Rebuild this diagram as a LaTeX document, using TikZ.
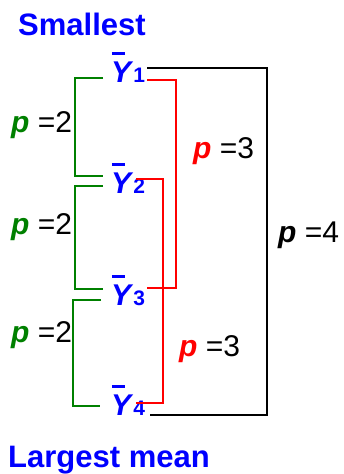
\documentclass[tikz,border=0pt]{standalone}
\usepackage{fontspec}
\setmainfont{Liberation Sans}
\usepackage{xcolor}
\usepackage{tikz}
\usetikzlibrary{positioning, calc}

\definecolor{meanblue}{RGB}{0,0,255}
\definecolor{pgreen}{RGB}{0,128,0}
\definecolor{pred}{RGB}{255,0,0}

\newcommand{\ymean}[1]{\textbf{\textit{\rlap{\kern0.02em\rule[0.9em]{0.45em}{0.1em}}Y}}{\fontsize{21}{21}\selectfont\bfseries #1}}
\newcommand{\plabel}[2]{{\color{#1}\textbf{\textit{p}}} =#2}

\begin{document}
\begin{tikzpicture}[
    x=1pt, y=-1pt,
    title/.style={font=\fontsize{31}{31}\selectfont\bfseries, text=meanblue, inner sep=0pt, anchor=base west},
    mean/.style={font=\fontsize{30}{30}\selectfont, text=meanblue, inner sep=0pt, anchor=base west},
    plab/.style={font=\fontsize{30}{30}\selectfont, inner sep=0pt, anchor=base west},
    pair/.style={draw=pgreen, line width=1.6pt},
    triple/.style={draw=pred, line width=1.6pt},
    quad/.style={draw=black, line width=1.6pt}
]
\useasboundingbox (0,0) rectangle (344,474);
\node[title] (small) at (18,35) {Smallest};
\node[title] (large) at (8,467) {Largest mean};
\node[mean] (y1) at (111,82) {\ymean{1}};
\node[mean] (y2) at (111,193) {\ymean{2}};
\node[mean] (y3) at (111,305) {\ymean{3}};
\node[mean] (y4) at (111,415) {\ymean{4}};
\node[plab] (pa) at (11,132) {\plabel{pgreen}{2}};
\node[plab] (pb) at (11,234) {\plabel{pgreen}{2}};
\node[plab] (pc) at (11,342) {\plabel{pgreen}{2}};
\node[plab] (pd) at (193,158) {\plabel{pred}{3}};
\node[plab] (pe) at (179,356) {\plabel{pred}{3}};
\node[plab] (pf) at (278,242) {\plabel{black}{4}};

\draw[pair] ([shift={(-8,-4)}]y1.base west) -- ++(-28,0) |- ([shift={(-8,-17)}]y2.base west);
\draw[pair] ([shift={(-8,-7)}]y2.base west) -- ++(-28,0) |- ([shift={(-8,-16)}]y3.base west);
\draw[pair] ([shift={(-10,-5)}]y3.base west) -- ++(-28,0) |- ([shift={(-11,-9)}]y4.base west);
\draw[triple] ([shift={(36,-2)}]y1.base west) -- ++(29,0) |- ([shift={(36,-17)}]y3.base west);
\draw[triple] ([shift={(25,-14)}]y2.base west) -- ++(27,0) |- ([shift={(25,-12)}]y4.base west);
\draw[quad] ([shift={(36,-14)}]y1.base west) -- ++(120,0) |- ([shift={(39,0)}]y4.base west);
\end{tikzpicture}
\end{document}
